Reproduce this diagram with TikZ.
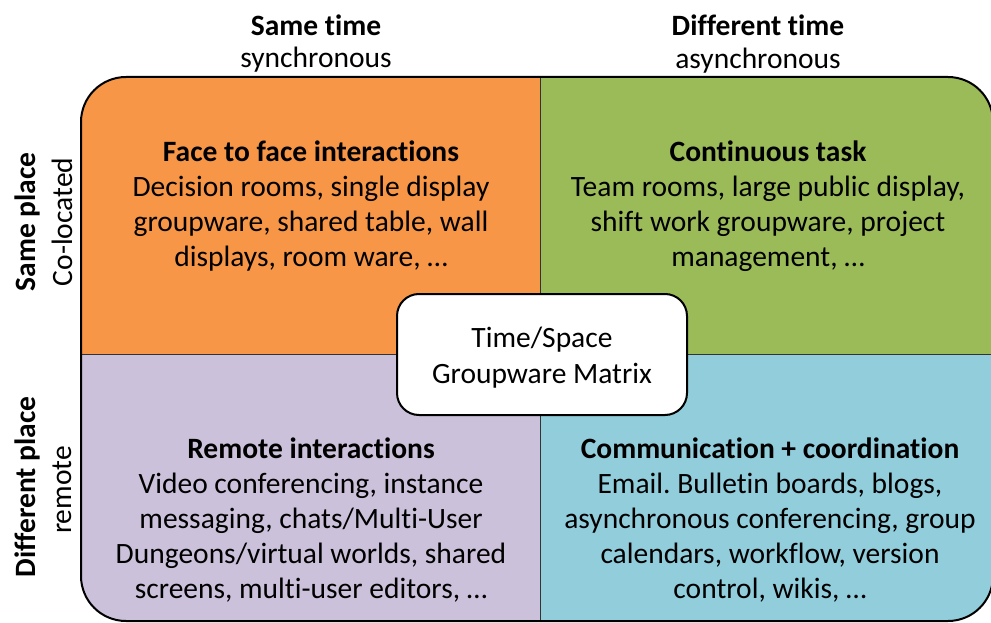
\documentclass[tikz,border=0pt]{standalone}
\usepackage{fontspec}
\setmainfont[Ligatures={NoCommon}]{Carlito}
\frenchspacing
\definecolor{qorange}{HTML}{F79646}
\definecolor{qgreen}{HTML}{9BBB59}
\definecolor{qpurple}{HTML}{CCC1DA}
\definecolor{qblue}{HTML}{92CDDC}
\tikzset{
  qtext/.style={align=center, font=\fontsize{29.5}{35}\selectfont, inner sep=0pt},
  head/.style={align=center, font=\fontsize{29.5}{35}\selectfont, inner sep=0pt},
  centerbox/.style={draw=black, line width=2pt, fill=white, rounded corners=22pt, minimum width=290pt, minimum height=121pt, inner sep=0pt}
}
\begin{document}
\begin{tikzpicture}[x=1pt,y=-1pt]
\useasboundingbox (0,0) rectangle (991,623);
\begin{scope}
  \clip[rounded corners=45pt] (81,77) rectangle (993,621);
  \fill[qorange] (81,77) rectangle (540,354);
  \fill[qgreen] (540,77) rectangle (993,354);
  \fill[qpurple] (81,354) rectangle (540,621);
  \fill[qblue] (540,354) rectangle (993,621);
  \draw[black!80, line width=0.8pt] (540,77) -- (540,621);
  \draw[black!80, line width=0.8pt] (81,354) -- (993,354);
\end{scope}
\draw[black, line width=2pt, rounded corners=45pt] (81,77) rectangle (993,621);

\node[head] (st) at (316,25) {\textbf{Same time}};
\node[head] (sy) at (316,60) {synchronous};
\node[head] (dt) at (758,25) {\textbf{Different time}};
\node[head] (as) at (758,61) {asynchronous};

\node[head, rotate=90] (sp) at (27,222) {\textbf{Same place}};
\node[head, rotate=90] (co) at (62,222) {Co-located};
\node[head, rotate=90] (dp) at (27,487) {\textbf{Different place}};
\node[head, rotate=90] (re) at (62,490) {remote};

\node[qtext] (tl) at (311,206) {\textbf{Face to face interactions}\\Decision rooms, single display\\groupware, shared table, wall\\displays, room ware, \dots};
\node[qtext] (tr) at (768,206) {\textbf{Continuous task}\\Team rooms, large public display,\\shift work groupware, project\\management, \dots};
\node[qtext] (bl) at (311,520) {\textbf{Remote interactions}\\Video conferencing, instance\\messaging, chats/Multi-User\\Dungeons/virtual worlds, shared\\screens, multi-user editors, \dots};
\node[qtext] (br) at (770,520) {\textbf{Communication + coordination}\\Email. Bulletin boards, blogs,\\asynchronous conferencing, group\\calendars, workflow, version\\control, wikis, \dots};

\node[centerbox] (cb) at (542,354.5) {};
\node[qtext, anchor=base] (cbt1) at (542,347) {Time/Space};
\node[qtext, anchor=base] (cbt2) at (542,383) {Groupware Matrix};
\end{tikzpicture}
\end{document}
